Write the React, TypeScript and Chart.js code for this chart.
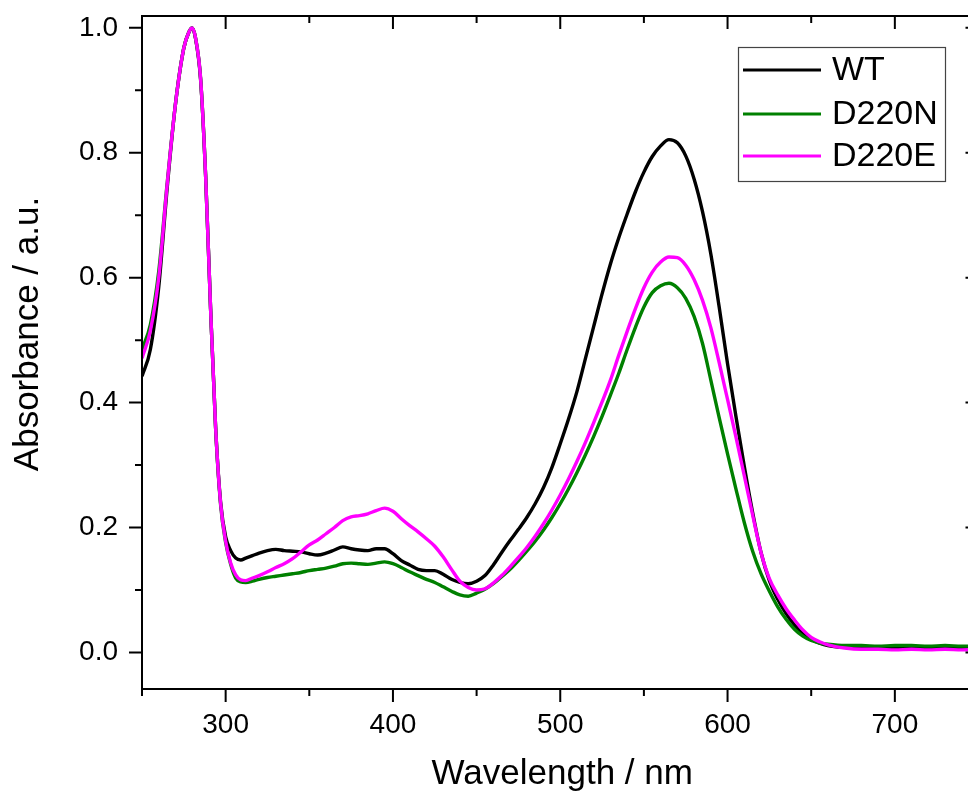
import { useEffect, useRef } from "react";
import { Chart, registerables } from "chart.js";

Chart.register(...registerables);

const FONT = "'Liberation Sans', Arial, Helvetica, sans-serif";

// Wavelength (nm)
const WAVELENGTH = [
  250, 255, 260, 265, 270, 275, 278, 280, 282, 285,
  288, 291, 294, 297, 300, 303, 306, 309, 312, 316,
  320, 325, 330, 335, 340, 345, 350, 355, 360, 365,
  370, 375, 380, 385, 390, 395, 400, 405, 410, 415,
  420, 425, 430, 435, 440, 445, 450, 455, 460, 465,
  470, 475, 480, 485, 490, 495, 500, 505, 510, 515,
  520, 525, 530, 535, 540, 545, 550, 555, 560, 565,
  570, 575, 580, 585, 590, 595, 600, 605, 610, 615,
  620, 625, 630, 635, 640, 645, 650, 655, 660, 670,
  680, 690, 700, 710, 720, 730, 740, 750,
];

const WT = [
  0.442, 0.485, 0.585, 0.742, 0.878, 0.968, 0.993, 1.0, 0.983, 0.918,
  0.765, 0.55, 0.36, 0.24, 0.185, 0.163, 0.151, 0.148, 0.151, 0.155,
  0.159, 0.163, 0.165, 0.163, 0.162, 0.161, 0.158, 0.156, 0.159, 0.164,
  0.169, 0.166, 0.164, 0.163, 0.166, 0.166, 0.158, 0.147, 0.14, 0.133,
  0.131, 0.131, 0.125, 0.117, 0.112, 0.11, 0.114, 0.123, 0.14, 0.16,
  0.179, 0.197, 0.216, 0.238, 0.264, 0.296, 0.334, 0.374, 0.418, 0.47,
  0.522, 0.574, 0.622, 0.664, 0.702, 0.738, 0.769, 0.794, 0.811, 0.821,
  0.816, 0.795, 0.758, 0.706, 0.638, 0.553, 0.462, 0.378, 0.298, 0.224,
  0.16, 0.115, 0.085, 0.062, 0.044, 0.03, 0.021, 0.015, 0.011, 0.008,
  0.007, 0.007, 0.007, 0.007, 0.008, 0.007, 0.008, 0.008,
];

const D220N = [
  0.485, 0.525, 0.61, 0.75, 0.878, 0.968, 0.993, 1.0, 0.984, 0.92,
  0.765, 0.55, 0.36, 0.236, 0.176, 0.141, 0.119, 0.113, 0.112, 0.114,
  0.117, 0.12, 0.122, 0.124, 0.126, 0.128, 0.131, 0.133, 0.135, 0.138,
  0.142, 0.143, 0.142, 0.141, 0.143, 0.145, 0.142, 0.136, 0.129, 0.123,
  0.117, 0.112, 0.105, 0.098, 0.092, 0.09, 0.095, 0.101, 0.11, 0.121,
  0.133, 0.147, 0.162, 0.178, 0.196, 0.216, 0.238, 0.262, 0.288, 0.316,
  0.346, 0.378, 0.412, 0.447, 0.485, 0.521, 0.553, 0.576, 0.587, 0.591,
  0.584, 0.567, 0.538, 0.495, 0.436, 0.376, 0.318, 0.262, 0.208, 0.162,
  0.126, 0.098, 0.073, 0.053, 0.037, 0.026, 0.019, 0.015, 0.013, 0.011,
  0.011, 0.01, 0.011, 0.011, 0.01, 0.011, 0.01, 0.01,
];

const D220E = [
  0.471, 0.515, 0.6, 0.748, 0.878, 0.968, 0.993, 1.0, 0.984, 0.92,
  0.765, 0.55, 0.36, 0.238, 0.178, 0.143, 0.124, 0.116, 0.115, 0.119,
  0.123, 0.129, 0.136, 0.142, 0.15, 0.161, 0.172, 0.18, 0.19, 0.2,
  0.211, 0.217, 0.219, 0.222, 0.227, 0.231, 0.226, 0.214, 0.203, 0.193,
  0.182, 0.17, 0.153, 0.133, 0.114, 0.104, 0.1, 0.102, 0.111, 0.123,
  0.137, 0.152, 0.168, 0.186, 0.206, 0.228, 0.252, 0.278, 0.306, 0.336,
  0.368, 0.401, 0.436, 0.476, 0.514, 0.551, 0.584, 0.609, 0.625, 0.633,
  0.632, 0.62, 0.597, 0.564, 0.52, 0.464, 0.405, 0.345, 0.283, 0.22,
  0.16, 0.118, 0.092, 0.07, 0.052, 0.036, 0.024, 0.017, 0.012, 0.007,
  0.005, 0.005, 0.004, 0.005, 0.004, 0.005, 0.004, 0.005,
];

const SERIES_LABELS = ["WT", "D220N", "D220E"];
const SERIES_VALUES = [WT, D220N, D220E];
const SERIES_COLORS = ["#000000", "#008000", "#FF00FF"];

const X_MIN = 250;
const X_MAX = 750;
const Y_MIN = -0.0586;
const Y_MAX = 1.019;
const X_MAJOR = [300, 400, 500, 600, 700];
const X_MINOR = [250, 350, 450, 550, 650, 750];
const Y_MAJOR = [0, 0.2, 0.4, 0.6, 0.8, 1.0];
const Y_MINOR = [0.1, 0.3, 0.5, 0.7, 0.9];

const X_TITLE = "Wavelength / nm";
const Y_TITLE = "Absorbance / a.u.";

const framePlugin = {
  id: "originFrame",
  afterDraw(chart: any) {
    const { ctx, chartArea: a, scales } = chart;
    const xs = scales.x;
    const ys = scales.y;
    ctx.save();
    ctx.strokeStyle = "#000";
    ctx.lineWidth = 2;
    ctx.lineCap = "butt";
    ctx.strokeRect(a.left, a.top, a.right - a.left, a.bottom - a.top);

    const MAJ = 13;
    const MIN = 7;
    ctx.beginPath();
    const xTick = (v: number, len: number) => {
      const px = xs.getPixelForValue(v);
      ctx.moveTo(px, a.bottom);
      ctx.lineTo(px, a.bottom + len);
      ctx.moveTo(px, a.top);
      ctx.lineTo(px, a.top + len);
    };
    const yTick = (v: number, len: number) => {
      const py = ys.getPixelForValue(v);
      ctx.moveTo(a.left, py);
      ctx.lineTo(a.left - len, py);
      ctx.moveTo(a.right, py);
      ctx.lineTo(a.right - len, py);
    };
    X_MAJOR.forEach((v) => xTick(v, MAJ));
    X_MINOR.forEach((v) => xTick(v, MIN));
    Y_MAJOR.forEach((v) => yTick(v, MAJ));
    Y_MINOR.forEach((v) => yTick(v, MIN));
    ctx.stroke();

    // axis titles
    ctx.fillStyle = "#000";
    ctx.textBaseline = "middle";
    ctx.textAlign = "center";
    ctx.font = `35px ${FONT}`;
    ctx.fillText(X_TITLE, (a.left + a.right) / 2 + 2, 774);
    ctx.save();
    ctx.translate(28, 334);
    ctx.rotate(-Math.PI / 2);
    ctx.fillText(Y_TITLE, 0, 0);
    ctx.restore();

    // legend
    const bx = 738.5;
    const by = 47.5;
    const bw = 207;
    const bh = 134;
    ctx.fillStyle = "#fff";
    ctx.fillRect(bx, by, bw, bh);
    ctx.strokeStyle = "#444";
    ctx.lineWidth = 1.2;
    ctx.strokeRect(bx, by, bw, bh);
    const rows = [70, 114, 156];
    ctx.font = `34px ${FONT}`;
    ctx.textAlign = "left";
    chart.data.datasets.forEach((ds: any, i: number) => {
      const y = rows[i];
      ctx.strokeStyle = ds.borderColor;
      ctx.lineWidth = 3.2;
      ctx.beginPath();
      ctx.moveTo(743, y);
      ctx.lineTo(821, y);
      ctx.stroke();
      ctx.fillStyle = "#000";
      ctx.fillText(ds.label, 832, y + 1);
    });
    ctx.restore();
  },
};

export default function App() {
  const ref = useRef<HTMLCanvasElement>(null);

  useEffect(() => {
    const canvas = ref.current;
    if (!canvas) return;
    const datasets = SERIES_LABELS.map((label, i) => ({
      label,
      data: WAVELENGTH.map((x, j) => ({ x, y: SERIES_VALUES[i][j] })),
      borderColor: SERIES_COLORS[i],
      backgroundColor: SERIES_COLORS[i],
      borderWidth: 3.4,
      pointRadius: 0,
      fill: false,
      cubicInterpolationMode: "monotone" as const,
      order: 3 - i,
    }));

    const chart = new Chart(canvas, {
      type: "line",
      data: { datasets },
      options: {
        animation: false,
        responsive: false,
        events: [],
        layout: { padding: { left: 0, top: 16, right: 21.5, bottom: 0 } },
        plugins: {
          legend: { display: false },
          tooltip: { enabled: false },
        },
        scales: {
          x: {
            type: "linear",
            position: "bottom",
            min: X_MIN,
            max: X_MAX,
            grid: { display: false, drawTicks: false },
            border: { display: false },
            afterBuildTicks: (s: any) => {
              s.ticks = X_MAJOR.map((value) => ({ value }));
            },
            afterFit: (s: any) => {
              s.height = 107;
              s.paddingLeft = 0;
              s.paddingRight = 0;
            },
            ticks: {
              color: "#000",
              padding: 19,
              maxRotation: 0,
              autoSkip: false,
              font: { family: FONT, size: 28 },
              callback: (v: any) => String(v),
            },
          },
          y: {
            type: "linear",
            position: "left",
            min: Y_MIN,
            max: Y_MAX,
            grid: { display: false, drawTicks: false },
            border: { display: false },
            afterBuildTicks: (s: any) => {
              s.ticks = Y_MAJOR.map((value) => ({ value }));
            },
            afterFit: (s: any) => {
              s.width = 142;
              s.paddingTop = 0;
              s.paddingBottom = 0;
            },
            ticks: {
              color: "#000",
              padding: 24,
              autoSkip: false,
              font: { family: FONT, size: 28 },
              callback: (v: any) => Number(v).toFixed(1),
            },
          },
        },
      },
      plugins: [framePlugin],
    });
    return () => chart.destroy();
  }, []);

  return (
    <div
      style={{
        position: "fixed",
        left: 0,
        top: 0,
        width: 968,
        height: 796,
        overflow: "hidden",
        background: "#fff",
      }}
    >
      <canvas
        ref={ref}
        width={1000}
        height={796}
        style={{ display: "block", width: 1000, height: 796 }}
      />
    </div>
  );
}
